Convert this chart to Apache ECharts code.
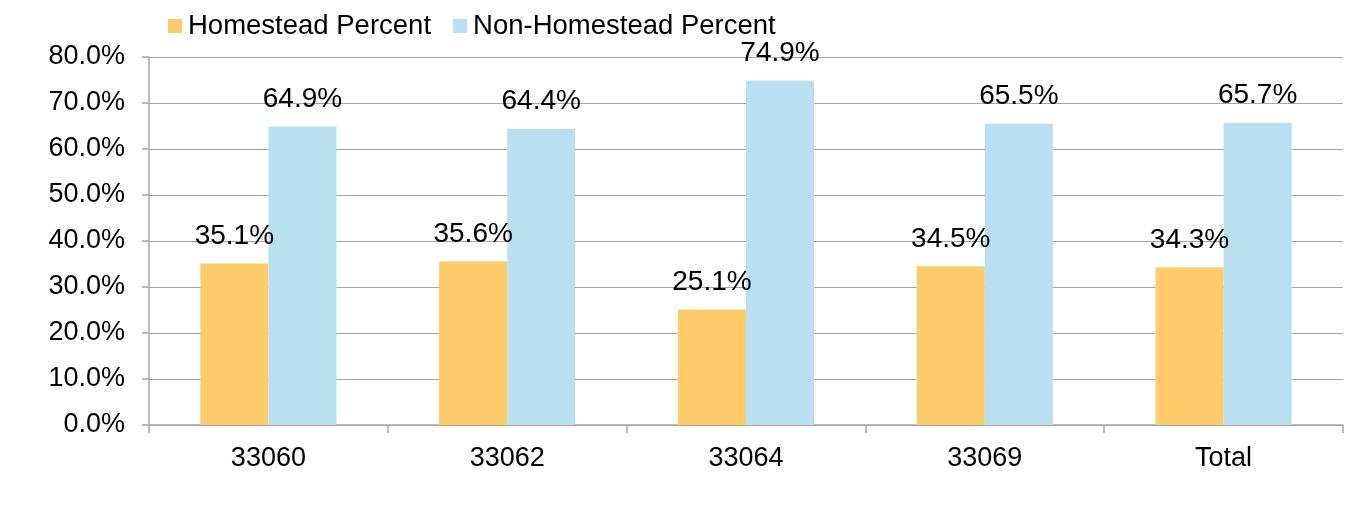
<!DOCTYPE html>
<html><head><meta charset="utf-8">
<script src="https://cdn.jsdelivr.net/npm/echarts@6/dist/echarts.min.js"></script>
<style>html,body{margin:0;padding:0;background:#fff}#c{width:1345px;height:505px}</style>
</head><body><div id="c"></div>
<script>
const categories = ['33060', '33062', '33064', '33069', 'Total'];
const homestead = [35.1, 35.6, 25.1, 34.5, 34.3];
const nonHomestead = [64.9, 64.4, 74.9, 65.5, 65.7];
const seriesNames = ['Homestead Percent', 'Non-Homestead Percent'];
const FONT = '"Liberation Sans", Arial, sans-serif';
const chart = echarts.init(document.getElementById('c'), null, {renderer: 'canvas'});
const lbl = {show: true, position: 'top', distance: 13, color: '#000', fontSize: 28, fontFamily: FONT,
  formatter: p => p.value.toFixed(1) + '%'};
chart.setOption({
  animation: false,
  textStyle: {fontFamily: FONT},
  legend: {
    top: 7, left: 163, itemWidth: 14, itemHeight: 14, itemGap: 22,
    icon: 'rect',
    textStyle: {fontSize: 27.5, color: '#000', fontFamily: FONT, padding: [0, 0, 0, 1]},
    data: seriesNames
  },
  grid: {left: 149, right: 2, top: 57, bottom: 80, containLabel: false},
  xAxis: {
    type: 'category', data: categories,
    axisLine: {lineStyle: {color: '#A6A6A6', width: 1.5}},
    axisTick: {show: true, length: 8, lineStyle: {color: '#A6A6A6', width: 1.5}},
    axisLabel: {fontSize: 27, color: '#000', margin: 20, fontFamily: FONT}
  },
  yAxis: {
    type: 'value', min: 0, max: 80, interval: 10,
    axisLine: {show: true, lineStyle: {color: '#A6A6A6', width: 1.5}},
    axisTick: {show: true, length: 7, lineStyle: {color: '#A6A6A6', width: 1.5}},
    splitLine: {lineStyle: {color: '#A6A6A6', width: 1.2}},
    axisLabel: {fontSize: 27, color: '#000', margin: 24, fontFamily: FONT,
      formatter: v => v.toFixed(1) + '%'}
  },
  series: [
    {name: seriesNames[0], type: 'bar', data: homestead, barGap: '0%', barCategoryGap: '43%',
     itemStyle: {color: '#FDCB6A'}, label: lbl},
    {name: seriesNames[1], type: 'bar', data: nonHomestead, barGap: '0%', barCategoryGap: '43%',
     itemStyle: {color: '#B9DFF0'}, label: lbl}
  ]
});
</script></body></html>
